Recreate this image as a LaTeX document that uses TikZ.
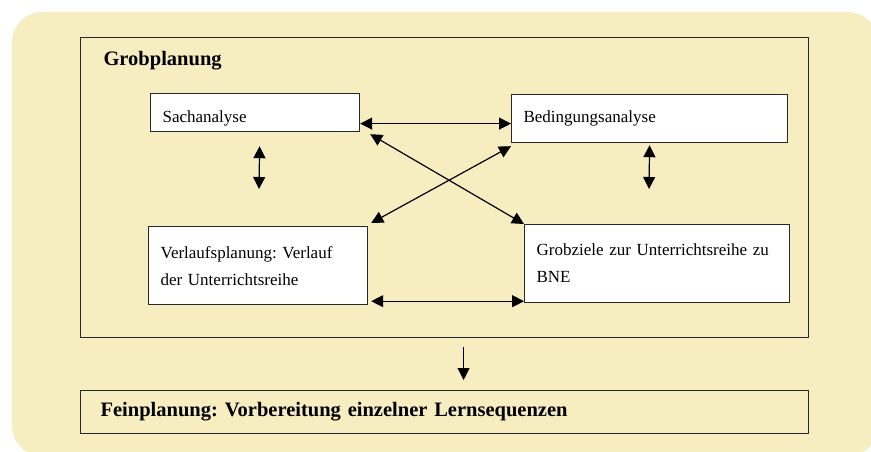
\documentclass[tikz,border=0pt]{standalone}
\usepackage{fontspec}
\setmainfont{Liberation Serif}
\usepackage{tikz}
\usetikzlibrary{arrows.meta, positioning, calc}
\definecolor{paleyellow}{RGB}{246, 237, 193}
\definecolor{boxline}{RGB}{40, 40, 40}
\tikzset{
  planbox/.style={draw=boxline, line width=1.2pt, anchor=north west, inner sep=0pt},
  stepbox/.style={draw=boxline, line width=1.2pt, fill=white, anchor=north west, align=left,
    inner xsep=12pt, inner ysep=0pt, font=\fontsize{17}{27}\selectfont},
  boldtext/.style={font=\fontsize{20.5}{24}\selectfont\bfseries},
  dbl/.style={{Triangle[length=12pt,width=12pt]}-{Triangle[length=12pt,width=12pt]}, line width=1.2pt},
  single/.style={-{Triangle[length=12pt,width=12pt]}, line width=1pt}
}
\frenchspacing

\begin{document}
\begin{tikzpicture}[x=1pt, y=-1pt]
        \useasboundingbox (0,0) rectangle (871,452);
        \clip (0,0) rectangle (871,452);
        % background card
        \fill[paleyellow, rounded corners=30pt] (12,12) rectangle (878,456);
        % frames
        \node[planbox, minimum width=728pt, minimum height=300pt] (grob) at (80,37) {};
        \node[boldtext, anchor=base west] (grobtitle) at (100,66) {Grobplanung};
        \node[planbox, boldtext, minimum width=728pt, minimum height=43pt, text width=688pt,
          inner xsep=20pt, align=left, yshift=-1pt] (fein) at (80,389) {Feinplanung: Vorbereitung einzelner Lernsequenzen};
        % the four steps
        \node[stepbox, minimum width=209pt, minimum height=38pt, text width=185pt, text height=23pt, text depth=3pt] (sach) at (150,93) {Sachanalyse};
        \node[stepbox, minimum width=276pt, minimum height=48pt, text width=252pt] (bed) at (511,94) {Bedingungsanalyse};
        \node[stepbox, minimum width=219pt, minimum height=78pt, text width=195pt] (verl) at (148,226) {Verlaufsplanung: Verlauf\\der Unterrichtsreihe};
        \node[stepbox, minimum width=265pt, minimum height=78pt, text width=241pt] (groz) at (524,224) {Grobziele zur Unterrichtsreihe zu\\BNE};
        % free ends of the short arrows
        \coordinate (sachdown) at (259,189);
        \coordinate (beddown) at (649,189);
        % connectors
        \draw[dbl] ([yshift=-11pt]sach.east) -- ([yshift=-5pt]bed.west);
        \draw[dbl] ([xshift=4.5pt,yshift=-14pt]sach.south) -- (sachdown);
        \draw[dbl] ([yshift=-2pt]bed.south) -- (beddown);
        \draw[dbl] ([xshift=10pt,yshift=-2pt]sach.south east) -- (groz.north west);
        \draw[dbl] ([yshift=-3pt]bed.south west) -- ([xshift=3pt,yshift=3pt]verl.north east);
        \draw[dbl] ([xshift=3pt,yshift=4pt]verl.south east) -- ([yshift=2pt]groz.south west);
        \draw[single] ([xshift=19pt,yshift=-9pt]grob.south) -- ([xshift=19pt,yshift=10pt]fein.north);
\end{tikzpicture}
\end{document}
